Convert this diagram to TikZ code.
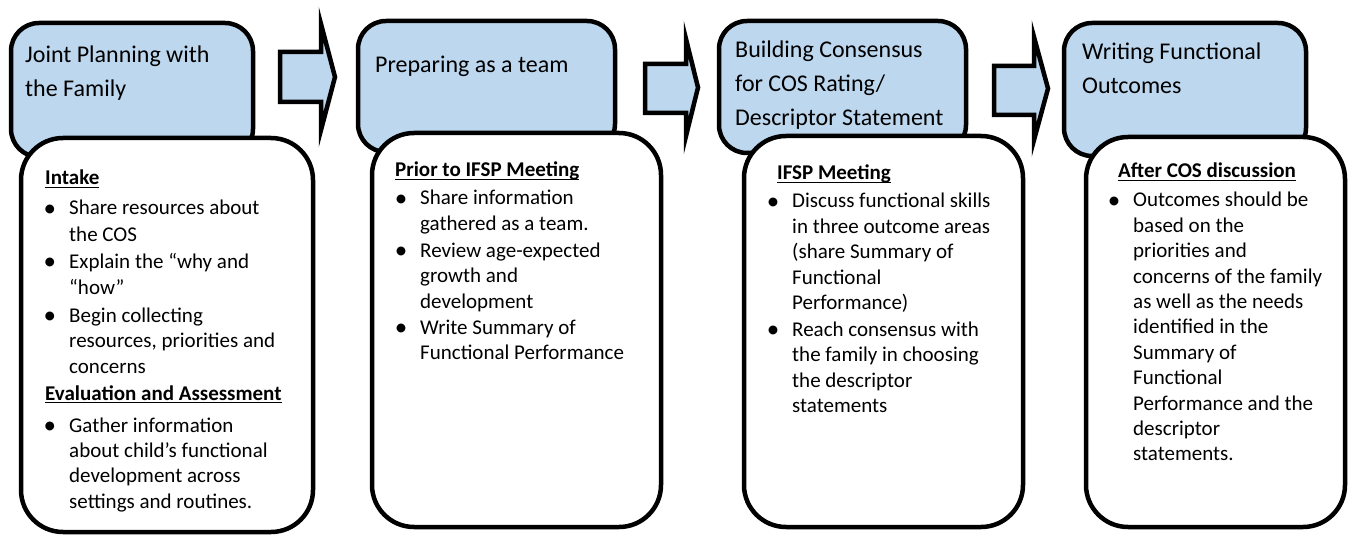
\documentclass[tikz,border=0pt]{standalone}
\usepackage{fontspec}
\setmainfont{Carlito}
\definecolor{boxblue}{RGB}{189,215,238}
\newcommand\hdr[1]{\setbox0\hbox{\bfseries #1}\rlap{\rule[-3.2pt]{\wd0}{1.4pt}}\box0}
\newcommand\bul{\llap{\raisebox{-1.1pt}{\fontsize{25}{25}\selectfont\textbullet}\hspace{13pt}}}
\tikzset{
  bluebox/.style={draw=black, fill=boxblue, line width=4.5pt, rounded corners=28pt, inner sep=0pt},
  whitebox/.style={draw=black, fill=white, line width=4.5pt, rounded corners=42pt, inner sep=0pt},
  titletext/.style={anchor=base west, inner sep=0pt, font=\fontsize{24}{34}\selectfont},
  bodytext/.style={anchor=base west, inner sep=0pt, font=\fontsize{21}{25.4}\selectfont},
  blockarrow/.style={draw=black, fill=boxblue, line width=4.5pt, line join=miter, miter limit=20},
}
\begin{document}
\begin{tikzpicture}[x=1pt,y=-1pt]
\useasboundingbox (0,0) rectangle (1349,537);
% ---------- box 1
\node[bluebox, minimum width=242pt, minimum height=134pt] (b1) at (132,90) {};
\node[titletext] (t1) at (25,63) {\begin{tabular}[t]{@{}l@{}}Joint Planning with\\the Family\end{tabular}};
\node[whitebox, minimum width=292pt, minimum height=394pt] (w1) at (167,335) {};
\node[bodytext] (c1) at (69,185) {\begin{tabular}[t]{@{}l@{}}
\hspace*{-24pt}\hdr{Intake}\\[4.6pt]
\bul Share resources about\\[1pt]
the COS\\[1.6pt]
\bul Explain the “why and\\[0.6pt]
“how”\\[2.6pt]
\bul Begin collecting\\
resources, priorities and\\
concerns\\[1.6pt]
\hspace*{-24pt}\hdr{Evaluation and Assessment}\\[6.6pt]
\bul Gather information\\
about child’s functional\\
development across\\
settings and routines.
\end{tabular}};
% ---------- box 2
\node[bluebox, minimum width=257pt, minimum height=131pt] (b2) at (486.5,86.5) {};
\node[titletext] (t2) at (375,73) {Preparing as a team};
\node[whitebox, minimum width=289pt, minimum height=394pt] (w2) at (516.5,330) {};
\node[bodytext] (c2) at (420,177) {\begin{tabular}[t]{@{}l@{}}
\hspace*{-25pt}\hdr{Prior to IFSP Meeting}\\[2.6pt]
\bul Share information\\
gathered as a team.\\[1.6pt]
\bul Review age-expected\\
growth and\\
development\\[0.8pt]
\bul Write Summary of\\
Functional Performance
\end{tabular}};
% ---------- box 3
\node[bluebox, minimum width=247pt, minimum height=132pt] (b3) at (842.5,87) {};
\node[titletext] (t3) at (735,58) {\begin{tabular}[t]{@{}l@{}}Building Consensus\\for COS Rating/\\Descriptor Statement\end{tabular}};
\node[whitebox, minimum width=279pt, minimum height=391pt] (w3) at (883.5,331.5) {};
\node[bodytext] (c3) at (792,180) {\begin{tabular}[t]{@{}l@{}}
\hspace*{-15pt}\hdr{IFSP Meeting}\\[2.6pt]
\bul Discuss functional skills\\
in three outcome areas\\
(share Summary of\\
Functional\\
Performance)\\[1.6pt]
\bul Reach consensus with\\
the family in choosing\\
the descriptor\\
statements
\end{tabular}};
% ---------- box 4
\node[bluebox, minimum width=242pt, minimum height=133pt] (b4) at (1185,89.5) {};
\node[titletext] (t4) at (1082,60) {\begin{tabular}[t]{@{}l@{}}Writing Functional\\Outcomes\end{tabular}};
\node[whitebox, minimum width=259pt, minimum height=390pt] (w4) at (1215.5,332) {};
\node[bodytext] (c4) at (1133,178) {\begin{tabular}[t]{@{}l@{}}
\hspace*{-15pt}\hdr{After COS discussion}\\[3.6pt]
\bul Outcomes should be\\
based on the\\
priorities and\\
concerns of the family\\
as well as the needs\\
identified in the\\
Summary of\\
Functional\\
Performance and the\\
descriptor\\
statements.
\end{tabular}};
% ---------- block arrows
\draw[blockarrow] (280,52) -- (321,52) -- (321,24) -- (335,77) -- (321,130) -- (321,102) -- (280,102) -- cycle;
\draw[blockarrow] (645,64) -- (686,64) -- (686,39) -- (698,87.5) -- (686,136) -- (686,113) -- (645,113) -- cycle;
\draw[blockarrow] (994,66) -- (1034,66) -- (1034,37) -- (1048,88.5) -- (1034,140) -- (1034,115) -- (994,115) -- cycle;
\end{tikzpicture}
\end{document}
